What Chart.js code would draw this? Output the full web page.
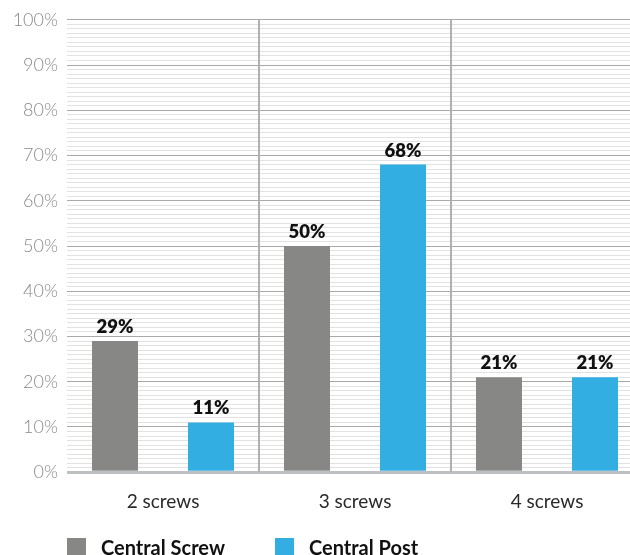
<!DOCTYPE html>
<html>
<head>
<meta charset="utf-8">
<script src="https://cdn.jsdelivr.net/npm/chart.js@4.4.1/dist/chart.umd.min.js"></script>
<style>
    html, body { margin: 0; padding: 0; background: #ffffff; overflow: hidden; }
    .wrap { position: relative; width: 645px; height: 555px; }
    .legend {
        position: absolute; left: 67px; top: 535px;
        display: flex; align-items: center;
        font-family: Lato, "Open Sans", sans-serif; font-weight: 700; font-size: 20px; color: #111;
    }
    .legend span.box { display: inline-block; width: 19px; height: 19px; margin-right: 15px; }
    .legend .item { display: flex; align-items: center; }
</style>
</head>
<body>
<div class="wrap">
    <canvas id="screwChart"></canvas>
    <div class="legend" id="legend"></div>
</div>
<script>
// Chart data
const categories = ['2 screws', '3 screws', '4 screws'];
const seriesNames = ['Central Screw', 'Central Post'];
const centralScrew = [29, 50, 21];
const centralPost = [11, 68, 21];
const seriesColors = ['#878786', '#33aee3'];

const FONT = 'Lato, "Open Sans", sans-serif';

// Writes the percentage above each bar
const valueLabels = {
    id: 'valueLabels',
    afterDatasetsDraw(chart) {
        const ctx = chart.ctx;
        ctx.save();
        ctx.font = `800 18.5px ${FONT}`;
        ctx.fillStyle = '#111111';
        ctx.textAlign = 'center';
        ctx.textBaseline = 'alphabetic';
        chart.data.datasets.forEach((ds, i) => {
            chart.getDatasetMeta(i).data.forEach((bar, j) => {
                ctx.fillText(ds.data[j] + '%', bar.x, bar.y - 8);
            });
        });
        ctx.restore();
    }
};

new Chart(document.getElementById('screwChart'), {
    type: 'bar',
    data: {
        labels: categories,
        datasets: [
            { label: seriesNames[0], data: centralScrew, backgroundColor: seriesColors[0] },
            { label: seriesNames[1], data: centralPost, backgroundColor: seriesColors[1] }
        ]
    },
    options: {
        responsive: true,
        maintainAspectRatio: false,
        animation: false,
        layout: { padding: { top: 4.5, right: 2, bottom: 24, left: 0 } },
        datasets: { bar: { categoryPercentage: 1.0, barPercentage: 0.479 } },
        plugins: {
            legend: { display: false },
            tooltip: { enabled: false }
        },
        scales: {
            x: {
                offset: true,
                border: { display: false },
                grid: {
                    offset: true,
                    z: 0, // separators go on top of the horizontal grid
                    drawTicks: false,
                    color: (c) => c.index === 0 ? 'rgba(0,0,0,0)' : '#b0b0b0',
                    lineWidth: 2
                },
                ticks: {
                    padding: 18,
                    color: '#2a2a2a',
                    font: { family: FONT, size: 19 }
                }
            },
            y: {
                min: 0,
                max: 100,
                border: { display: false },
                afterFit: (scale) => { scale.width = 67; },
                grid: {
                    drawTicks: false,
                    color: (c) => {
                        const v = c.tick.value;
                        if (v === 0) return '#bcc0c3';
                        return v % 10 === 0 ? '#a9a9a9' : '#e2e2e2';
                    },
                    lineWidth: (c) => c.tick.value === 0 ? 3 : 1
                },
                ticks: {
                    stepSize: 1,
                    autoSkip: false,
                    padding: 9,
                    color: '#8a8a8a',
                    font: { family: FONT, size: 18, weight: '300' },
                    callback: (v) => v % 10 === 0 ? v + '%' : ''
                }
            }
        }
    },
    plugins: [valueLabels]
});

// Legend below the plot
document.getElementById('legend').innerHTML = seriesNames.map((name, i) =>
    `<div class="item" style="margin-right:${i === 0 ? 50 : 0}px"><span class="box" style="background:${seriesColors[i]}"></span>${name}</div>`
).join('');
</script>
</body>
</html>
